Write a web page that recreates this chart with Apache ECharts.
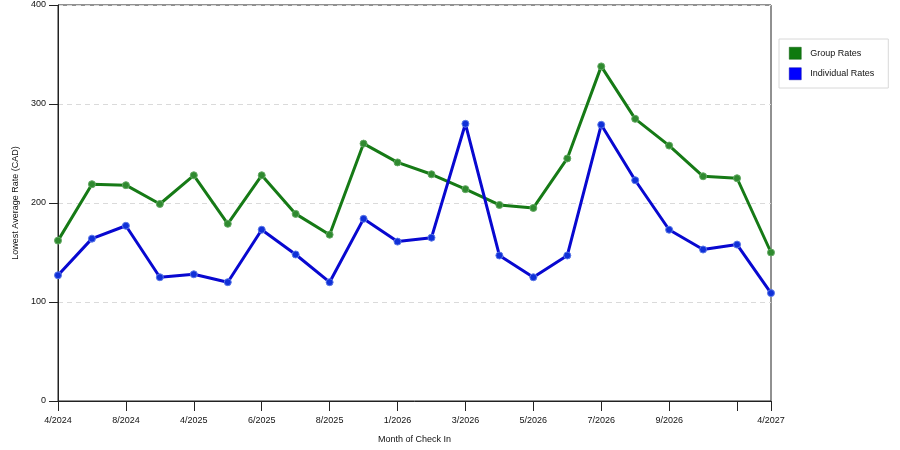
<!DOCTYPE html>
<html>
<head>
<meta charset="utf-8">
<script src="https://cdn.jsdelivr.net/npm/echarts@6/dist/echarts.min.js"></script>
<style>
  html, body { margin: 0; padding: 0; background: #fff; }
  #chart { width: 900px; height: 450px; }
</style>
</head>
<body>
<div id="chart"></div>
<script>
// month of check in (only some of them get a label on the axis)
const months = ["4/2024", "6/2024", "8/2024", "10/2024", "4/2025", "5/2025", "6/2025", "7/2025",
  "8/2025", "12/2025", "1/2026", "2/2026", "3/2026", "4/2026", "5/2026", "6/2026",
  "7/2026", "8/2026", "9/2026", "10/2026", "12/2026", "4/2027"];

const groupRates = [162, 219, 218, 199, 228, 179, 228, 189, 168, 260, 241, 229,
  214, 198, 195, 245, 338, 285, 258, 227, 225, 150];

const individualRates = [127, 164, 177, 125, 128, 120, 173, 148, 120, 184, 161, 165,
  280, 147, 125, 147, 279, 223, 173, 153, 158, 109];

const yTicks = { min: 0, max: 400, step: 100 };

const last = months.length - 1;
const fontName = "Liberation Sans";

let myChart = echarts.init(document.getElementById("chart"));

let option = {
  animation: false,
  backgroundColor: "#fff",
  textStyle: { fontFamily: fontName },
  grid: {
    left: 58,
    right: 129,
    top: 5,
    bottom: 49,
    show: true,
    borderColor: "#222",
    borderWidth: 1
  },
  legend: {
    orient: "vertical",
    left: 779,
    top: 39,
    padding: [8, 14, 8, 10],
    itemWidth: 12,
    itemHeight: 12,
    itemGap: 8,
    borderColor: "#d8d8d8",
    borderWidth: 1,
    textStyle: { fontSize: 9, color: "#111", fontFamily: fontName, padding: [0, 0, 0, 4] },
    data: [
      { name: "Group Rates", icon: "rect", itemStyle: { color: "#0f7a0f", borderColor: "#0a5a0a", borderWidth: 0.5 } },
      { name: "Individual Rates", icon: "rect", itemStyle: { color: "#0000ff", borderColor: "#0000aa", borderWidth: 0.5 } }
    ]
  },
  xAxis: {
    type: "category",
    data: months,
    boundaryGap: false,
    name: "Month of Check In",
    nameLocation: "middle",
    nameGap: 34,
    nameTextStyle: { fontSize: 9, color: "#111", fontFamily: fontName },
    axisLine: { lineStyle: { color: "#222", width: 1 } },
    axisTick: {
      show: true,
      length: 10,
      lineStyle: { color: "#222" },
      interval: (index) => index % 2 === 0 || index === last
    },
    axisLabel: {
      fontSize: 9,
      color: "#111",
      margin: 15,
      interval: (index) => (index % 2 === 0 && index < last - 1) || index === last
    },
    splitLine: { show: false }
  },
  yAxis: {
    type: "value",
    min: yTicks.min,
    max: yTicks.max,
    interval: yTicks.step,
    name: "Lowest Average Rate (CAD)",
    nameLocation: "middle",
    nameGap: 31,
    nameTextStyle: { fontSize: 9, color: "#111", fontFamily: fontName },
    axisLine: { show: true, lineStyle: { color: "#222", width: 1 } },
    axisTick: { show: true, length: 9, lineStyle: { color: "#222" } },
    axisLabel: { fontSize: 9, color: "#111", margin: 12 },
    splitLine: { show: true, lineStyle: { color: "#dadada", type: [5, 4], width: 1 } }
  },
  series: [
    {
      name: "Group Rates",
      type: "line",
      data: groupRates,
      symbol: "circle",
      symbolSize: 7,
      lineStyle: { color: "#167a16", width: 3 },
      itemStyle: { color: "#2f8a2f", borderColor: "#62a862", borderWidth: 1 }
    },
    {
      name: "Individual Rates",
      type: "line",
      data: individualRates,
      symbol: "circle",
      symbolSize: 7,
      lineStyle: { color: "#0808d0", width: 3 },
      itemStyle: { color: "#1030d8", borderColor: "#5a78e8", borderWidth: 1 }
    }
  ]
};

myChart.setOption(option);
</script>
</body>
</html>
